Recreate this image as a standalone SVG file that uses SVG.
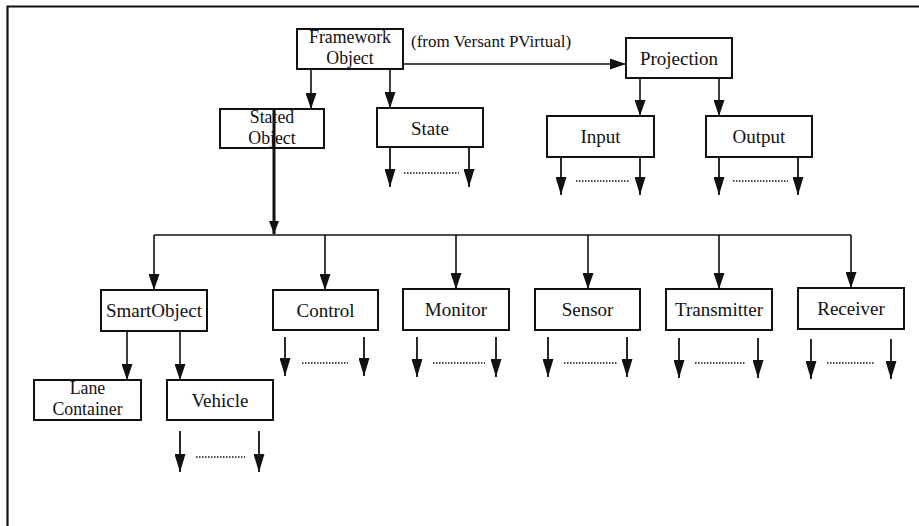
<svg xmlns="http://www.w3.org/2000/svg" width="919" height="526" viewBox="0 0 919 526">
  <style>
    .box { fill: #fff; stroke: #111; stroke-width: 2; }
    .lbl { font-family: "Liberation Serif", "Times New Roman", serif; font-size: 19px; fill: #111; text-anchor: middle; }
    .note { font-family: "Liberation Serif", "Times New Roman", serif; font-size: 17px; fill: #111; }
    .edge { fill: none; stroke: #111; stroke-width: 1.6; }
    .edge-arrow { fill: none; stroke: #111; stroke-width: 1.6; marker-end: url(#head); }
    .more { fill: none; stroke: #111; stroke-width: 1.8; marker-end: url(#headLong); }
    .dots { fill: none; stroke: #111; stroke-width: 1.5; stroke-dasharray: 1.5 1.5; }
    .frame { fill: none; stroke: #111; stroke-width: 2.2; }
  </style>
  <defs>
    <marker id="head" markerUnits="userSpaceOnUse" markerWidth="16" markerHeight="11" refX="16" refY="5.5" orient="auto">
      <path d="M0,0 L16,5.5 L0,11 Z" fill="#111"/>
    </marker>
    <marker id="headLong" markerUnits="userSpaceOnUse" markerWidth="18" markerHeight="11" refX="18" refY="5.5" orient="auto">
      <path d="M0,0 L18,5.5 L0,11 Z" fill="#111"/>
    </marker>
    <marker id="headShort" markerUnits="userSpaceOnUse" markerWidth="13" markerHeight="10" refX="13" refY="5" orient="auto">
      <path d="M0,0 L13,5 L0,10 Z" fill="#111"/>
    </marker>
  </defs>

  <rect width="919" height="526" fill="#fff"/>

  <!-- page frame (top and left rules) -->
  <path class="frame" d="M7.5,526 V6.5 H919"/>

  <!-- connectors -->
  <g id="connectors">
    <!-- Framework Object -> children -->
    <line class="edge-arrow" x1="311" y1="69" x2="311" y2="109"/>
    <line class="edge-arrow" x1="390" y1="69" x2="390" y2="108"/>
    <line class="edge-arrow" x1="403" y1="64" x2="626" y2="64"/>
    <!-- Projection -> Input / Output -->
    <line class="edge-arrow" x1="640" y1="78" x2="640" y2="116"/>
    <line class="edge-arrow" x1="719" y1="78" x2="719" y2="116"/>
    <!-- Stated Object -> bus -->
    <line x1="274" y1="110" x2="274" y2="234" stroke="#111" stroke-width="3" marker-end="url(#headShort)"/>
    <!-- bus -->
    <line class="edge" x1="154" y1="235" x2="851" y2="235"/>
    <line class="edge-arrow" x1="154" y1="235" x2="154" y2="290"/>
    <line class="edge-arrow" x1="325" y1="235" x2="325" y2="290"/>
    <line class="edge-arrow" x1="456" y1="235" x2="456" y2="289"/>
    <line class="edge-arrow" x1="588" y1="235" x2="588" y2="289"/>
    <line class="edge-arrow" x1="719" y1="235" x2="719" y2="289"/>
    <line class="edge-arrow" x1="851" y1="235" x2="851" y2="288"/>
    <!-- SmartObject -> Lane Container / Vehicle -->
    <line class="edge-arrow" x1="127" y1="331" x2="127" y2="380"/>
    <line class="edge-arrow" x1="180" y1="331" x2="180" y2="380"/>

    <!-- further subclasses -->
    <line class="more" x1="390" y1="147" x2="390" y2="187"/>
    <line class="more" x1="469" y1="147" x2="469" y2="187"/>
    <line class="dots" x1="404" y1="173" x2="459" y2="173"/>

    <line class="more" x1="561" y1="157" x2="561" y2="195"/>
    <line class="more" x1="640" y1="157" x2="640" y2="195"/>
    <line class="dots" x1="576" y1="181" x2="630" y2="181"/>

    <line class="more" x1="719" y1="157" x2="719" y2="195"/>
    <line class="more" x1="798" y1="157" x2="798" y2="195"/>
    <line class="dots" x1="733" y1="181" x2="788" y2="181"/>

    <line class="more" x1="285" y1="337" x2="285" y2="376"/>
    <line class="more" x1="364" y1="337" x2="364" y2="376"/>
    <line class="dots" x1="302" y1="363" x2="348" y2="363"/>

    <line class="more" x1="417" y1="337" x2="417" y2="377"/>
    <line class="more" x1="496" y1="337" x2="496" y2="377"/>
    <line class="dots" x1="433" y1="363" x2="485" y2="363"/>

    <line class="more" x1="548" y1="337" x2="548" y2="377"/>
    <line class="more" x1="627" y1="337" x2="627" y2="377"/>
    <line class="dots" x1="564" y1="363" x2="617" y2="363"/>

    <line class="more" x1="679" y1="338" x2="679" y2="378"/>
    <line class="more" x1="758" y1="338" x2="758" y2="378"/>
    <line class="dots" x1="695" y1="363" x2="745" y2="363"/>

    <line class="more" x1="811" y1="339" x2="811" y2="379"/>
    <line class="more" x1="891" y1="339" x2="891" y2="379"/>
    <line class="dots" x1="827" y1="363" x2="874" y2="363"/>

    <line class="more" x1="180" y1="431" x2="180" y2="472"/>
    <line class="more" x1="259" y1="431" x2="259" y2="472"/>
    <line class="dots" x1="196" y1="457" x2="245" y2="457"/>
  </g>

  <g id="framework-object">
    <rect class="box" x="297" y="29" width="106" height="40"/>
    <text class="lbl" x="350" y="42.5" style="font-size:17.8px">Framework</text>
    <text class="lbl" x="350" y="63.5" style="font-size:17.8px">Object</text>
  </g>
  <text class="note" x="411" y="47">(from Versant PVirtual)</text>

  <g id="projection">
    <rect class="box" x="626" y="38" width="106" height="40"/>
    <text class="lbl" x="679" y="64.5">Projection</text>
  </g>
  <g id="input">
    <rect class="box" x="547" y="116" width="107" height="41"/>
    <text class="lbl" x="600.5" y="143">Input</text>
  </g>
  <g id="output">
    <rect class="box" x="706" y="116" width="106" height="41"/>
    <text class="lbl" x="759" y="143">Output</text>
  </g>

  <g id="stated-object">
    <rect class="box" x="220" y="109" width="104" height="39"/>
    <text class="lbl" x="272" y="122.5" style="font-size:17.8px">Stated</text>
    <text class="lbl" x="272" y="144" style="font-size:17.8px">Object</text>
  </g>
  <g id="state">
    <rect class="box" x="377" y="108" width="106" height="39"/>
    <text class="lbl" x="430" y="134.5">State</text>
  </g>
  <!-- the heavy connector passes over the Stated Object label -->
  <line x1="274" y1="110" x2="274" y2="148" stroke="#111" stroke-width="3"/>

  <g id="smart-object">
    <rect class="box" x="101" y="290" width="106" height="41"/>
    <text class="lbl" x="154" y="317">SmartObject</text>
  </g>
  <g id="control">
    <rect class="box" x="273" y="290" width="105" height="40"/>
    <text class="lbl" x="325.5" y="316.5">Control</text>
  </g>
  <g id="monitor">
    <rect class="box" x="403" y="289" width="106" height="41"/>
    <text class="lbl" x="456" y="316">Monitor</text>
  </g>
  <g id="sensor">
    <rect class="box" x="535" y="289" width="105" height="41"/>
    <text class="lbl" x="587.5" y="315.5">Sensor</text>
  </g>
  <g id="transmitter">
    <rect class="box" x="666" y="289" width="106" height="41"/>
    <text class="lbl" x="719" y="315.5">Transmitter</text>
  </g>
  <g id="receiver">
    <rect class="box" x="798" y="288" width="106" height="41"/>
    <text class="lbl" x="851" y="315">Receiver</text>
  </g>

  <g id="lane-container">
    <rect class="box" x="34" y="380" width="107" height="40"/>
    <text class="lbl" x="87.5" y="393.5" style="font-size:17.8px">Lane</text>
    <text class="lbl" x="87.5" y="415" style="font-size:17.8px">Container</text>
  </g>
  <g id="vehicle">
    <rect class="box" x="167" y="380" width="106" height="40"/>
    <text class="lbl" x="220" y="406.5">Vehicle</text>
  </g>
</svg>
